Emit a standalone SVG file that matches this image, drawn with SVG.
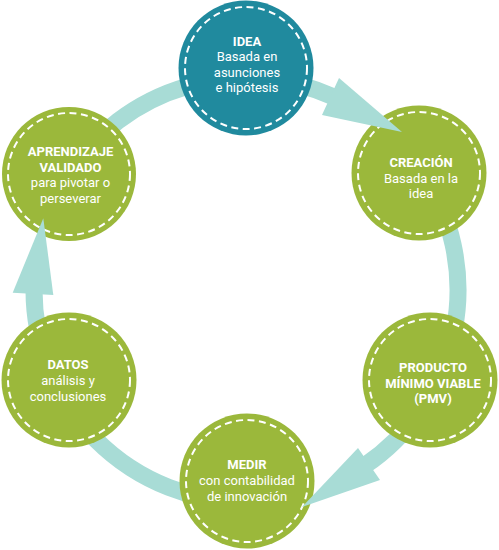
<svg xmlns="http://www.w3.org/2000/svg" width="499" height="550" viewBox="0 0 499 550">
<style>
.ring{fill:none;stroke:#a8dcd6;stroke-width:17}
.head{fill:#a8dcd6}
.node{fill:#9bb83b}
.idea{fill:#208a9e}
.dash{fill:none;stroke:#fff;stroke-width:2;stroke-dasharray:7 4.5}
text{font-family:Roboto,"Liberation Sans",sans-serif;font-size:13px;fill:#fff;text-anchor:middle}
.b{font-weight:bold}
</style>
<rect width="499" height="550" fill="#fff"/>
<g id="connectors">
<path class="ring" d="M421.8 171.5 A212 212 0 0 1 364.5 465.8"/>
<path class="ring" d="M247.1 502 A212 212 0 0 1 34 290"/>
<path class="ring" d="M68.6 173.9 A212 212 0 0 1 333.9 97.1"/>
</g>
<g id="node-idea">
<circle class="idea" cx="246" cy="68" r="67.5"/>
<circle class="dash" cx="246" cy="68" r="61"/>
<text x="247" y="46" class="b">IDEA</text>
<text x="247" y="61.3">Basada en</text>
<text x="247" y="76.7">asunciones</text>
<text x="247" y="92">e hipótesis</text>
</g>
<g id="node-creacion">
<circle class="node" cx="419" cy="173" r="67.5"/>
<circle class="dash" cx="419" cy="173" r="61"/>
<text x="421" y="166.7" class="b">CREACIÓN</text>
<text x="421" y="182.5">Basada en la</text>
<text x="421" y="198">idea</text>
</g>
<g id="node-producto">
<circle class="node" cx="430" cy="380" r="67.5"/>
<circle class="dash" cx="430" cy="380" r="61"/>
<text x="433" y="372" class="b">PRODUCTO</text>
<text x="433" y="387.7" class="b">MÍNIMO VIABLE</text>
<text x="433" y="403" class="b">(PMV)</text>
</g>
<g id="node-medir">
<circle class="node" cx="247" cy="481" r="67.5"/>
<circle class="dash" cx="247" cy="481" r="61"/>
<text x="247" y="468.5" class="b">MEDIR</text>
<text x="247" y="485">con contabilidad</text>
<text x="247" y="501">de innovación</text>
</g>
<g id="node-datos">
<circle class="node" cx="69" cy="380" r="67.5"/>
<circle class="dash" cx="69" cy="380" r="61"/>
<text x="68" y="369" class="b">DATOS</text>
<text x="68" y="385">análisis y</text>
<text x="68" y="400.7">conclusiones</text>
</g>
<g id="node-aprendizaje">
<circle class="node" cx="69" cy="174" r="67"/>
<circle class="dash" cx="69" cy="174" r="61"/>
<text x="70.5" y="156" class="b">APRENDIZAJE</text>
<text x="70.5" y="171.7" class="b">VALIDADO</text>
<text x="70.5" y="187.3">para pivotar o</text>
<text x="70.5" y="202.7">perseverar</text>
</g>
<g id="arrowheads">
<polygon class="head" points="339,78 402,132 322,115"/>
<polygon class="head" points="358,448 380,480 302,507"/>
<polygon class="head" points="12.7,292.7 43.3,218.3 53.3,295"/>
</g>
</svg>
